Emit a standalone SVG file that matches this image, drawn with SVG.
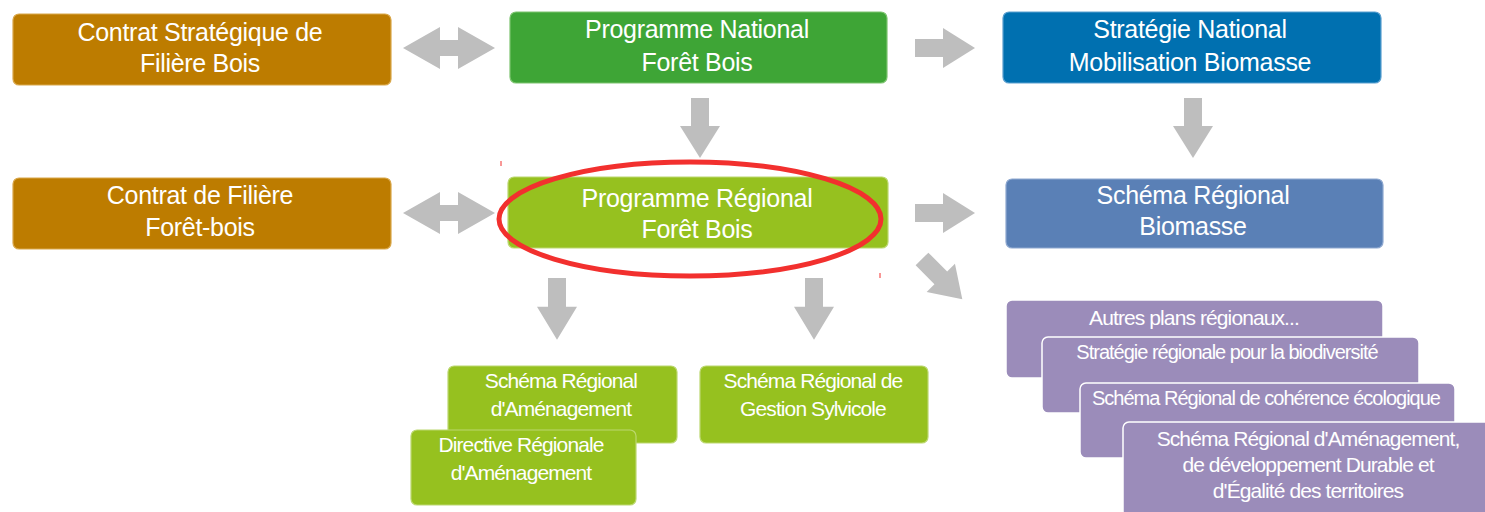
<svg xmlns="http://www.w3.org/2000/svg" width="1485" height="512" viewBox="0 0 1485 512">
<style>
.t{font-family:"Liberation Sans",Arial,sans-serif;fill:#fff;text-anchor:middle}
.big{font-size:25px;letter-spacing:-0.3px}
.sm{font-size:21px;letter-spacing:-0.9px}
.xs{font-size:20px;letter-spacing:-1px}
.arr{fill:#BEBEBE}
.brown{fill:#BD7C00;stroke:#D9A74A;stroke-width:1.2}
.green{fill:#3EA536;stroke:#7CC46F;stroke-width:1.2}
.blue{fill:#0070B0;stroke:#5A9FCF;stroke-width:1.2}
.lgreen{fill:#96C11F;stroke:#BCD870;stroke-width:1.2}
.sblue{fill:#5A80B6;stroke:#8EA8D0;stroke-width:1.2}
.purple{fill:#9B8CBA;stroke:#fff;stroke-width:1.5}
</style>
<defs>
<polygon id="dbl" points="0,21 37,0 37,13 55,13 55,0 92,21 55,42 55,29 37,29 37,42"/>
<polygon id="right" points="0,-9 28,-9 28,-20 60,0 28,20 28,9 0,9"/>
</defs>
<rect width="1485" height="512" fill="#fff"/>
<g id="connectors">
<use href="#dbl" class="arr" x="403" y="27"/>
<use href="#dbl" class="arr" x="403" y="192"/>
<use href="#right" class="arr" transform="translate(915,48)"/>
<use href="#right" class="arr" transform="translate(915,213)"/>
<use href="#right" class="arr" transform="translate(700,98) rotate(90)"/>
<use href="#right" class="arr" transform="translate(1193,98) rotate(90)"/>
<use href="#right" class="arr" transform="translate(557,278) rotate(90) scale(1.03,1)"/>
<use href="#right" class="arr" transform="translate(814,278) rotate(90) scale(1.03,1)"/>
<use href="#right" class="arr" transform="translate(922,259) rotate(45) scale(0.95,1)"/>
</g>
<g id="n1"><rect class="brown" x="13" y="14" width="378" height="71" rx="6"/>
<text class="t big" x="200" y="41">Contrat Stratégique de</text><text class="t big" x="200" y="72">Filière Bois</text></g>
<g id="n2"><rect class="green" x="510" y="12" width="377" height="71" rx="6"/>
<text class="t big" x="697" y="38">Programme National</text><text class="t big" x="697" y="71">Forêt Bois</text></g>
<g id="n3"><rect class="blue" x="1003" y="12" width="378" height="71" rx="6"/>
<text class="t big" x="1190" y="38">Stratégie National</text><text class="t big" x="1190" y="71">Mobilisation Biomasse</text></g>
<g id="n4"><rect class="brown" x="13" y="178" width="378" height="71" rx="6"/>
<text class="t big" x="200" y="204">Contrat de Filière</text><text class="t big" x="200" y="236">Forêt-bois</text></g>
<g id="n5"><rect class="lgreen" x="508" y="177" width="380" height="71" rx="6"/>
<text class="t big" x="697" y="207">Programme Régional</text><text class="t big" x="697" y="238">Forêt Bois</text></g>
<g id="n6"><rect class="sblue" x="1006" y="179" width="377" height="69" rx="6"/>
<text class="t big" x="1193" y="204">Schéma Régional</text><text class="t big" x="1193" y="235">Biomasse</text></g>
<g id="n7"><rect class="lgreen" x="448" y="366" width="229" height="77" rx="6"/>
<text class="t sm" x="561" y="388">Schéma Régional</text><text class="t sm" x="561" y="416">d'Aménagement</text></g>
<g id="n8"><rect class="lgreen" stroke="#fff" x="411" y="430" width="225" height="75" rx="6"/>
<text class="t sm" x="521" y="452">Directive Régionale</text><text class="t sm" x="521" y="480">d'Aménagement</text></g>
<g id="n9"><rect class="lgreen" x="700" y="366" width="228" height="77" rx="6"/>
<text class="t sm" x="813" y="388">Schéma Régional de</text><text class="t sm" x="813" y="416">Gestion Sylvicole</text></g>
<g id="n10"><rect class="purple" stroke="none" x="1006" y="300" width="377" height="78" rx="6"/>
<text class="t sm" x="1194" y="325" letter-spacing="-0.3">Autres plans régionaux...</text></g>
<g id="n11"><rect class="purple" x="1042" y="337" width="377" height="76" rx="6"/>
<text class="t xs" x="1227" y="359" letter-spacing="-0.8">Stratégie régionale pour la biodiversité</text></g>
<g id="n12"><rect class="purple" x="1080" y="383" width="375" height="75" rx="6"/>
<text class="t xs" x="1266" y="405" letter-spacing="-1.3">Schéma Régional de cohérence écologique</text></g>
<g id="n13"><rect class="purple" x="1123" y="422" width="375" height="95" rx="6"/>
<text class="t sm" x="1308" y="446" font-size="22" letter-spacing="-0.2">Schéma Régional d'Aménagement,</text>
<text class="t sm" x="1308" y="472" font-size="22" letter-spacing="-0.2">de développement Durable et</text>
<text class="t sm" x="1308" y="498" font-size="22" letter-spacing="-0.2">d'Égalité des territoires</text></g>
<g id="highlight">
<ellipse cx="690" cy="219" rx="191" ry="57" fill="none" stroke="#F2302E" stroke-width="5"/>
<line x1="501" y1="161" x2="501" y2="166" stroke="#F2302E" stroke-width="1"/>
<line x1="880" y1="273" x2="880" y2="278" stroke="#F2302E" stroke-width="1"/>
</g>
</svg>
